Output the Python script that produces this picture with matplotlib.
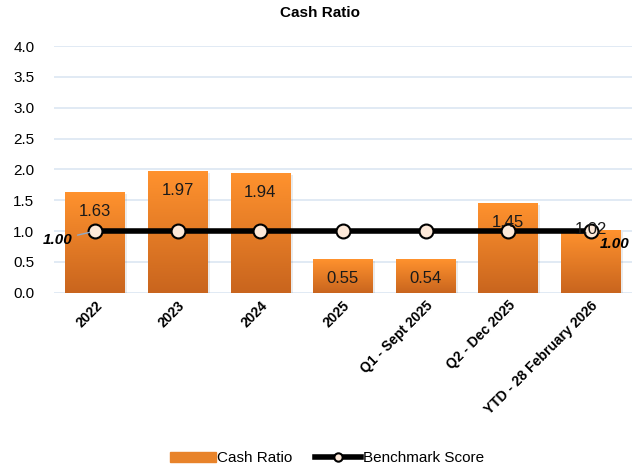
import matplotlib

matplotlib.use("Agg")

import matplotlib.pyplot as plt
import numpy as np
from matplotlib.colors import LinearSegmentedColormap

plt.rcParams["font.family"] = ["Liberation Sans", "DejaVu Sans"]

# ---------------------------------------------------------------------------
# Data
# ---------------------------------------------------------------------------
categories = ["2022", "2023", "2024", "2025", "Q1 - Sept 2025",
              "Q2 - Dec 2025", "YTD - 28 February 2026"]
cash_ratio = [1.63, 1.97, 1.94, 0.55, 0.54, 1.45, 1.02]
benchmark = [1.00, 1.00, 1.00, 1.00, 1.00, 1.00, 1.00]
y_ticks = [0.0, 0.5, 1.0, 1.5, 2.0, 2.5, 3.0, 3.5, 4.0]

# ---------------------------------------------------------------------------
# Plot
# ---------------------------------------------------------------------------
fig = plt.figure(figsize=(6.41, 4.70), dpi=100)
ax = fig.add_axes([0.084, 0.377, 0.902, 0.525])

x = np.arange(len(categories))
bar_w = 0.72
grad = LinearSegmentedColormap.from_list("orange_grad", ["#C9651E", "#FF922E"])

bars = ax.bar(x, cash_ratio, width=bar_w, color="none", edgecolor="none",
              zorder=2, label="Cash Ratio")
for b in bars:
    x0, y0 = b.get_x(), b.get_y()
    w, h = b.get_width(), b.get_height()
    # soft shadow
    ax.bar(x0 + w / 2 + 0.03, h, width=w, bottom=-0.03, color="#000000",
           alpha=0.08, zorder=1.5)
    img = ax.imshow(np.linspace(0, 1, 100).reshape(-1, 1), cmap=grad,
                    extent=[x0, x0 + w, y0, y0 + h], origin="lower",
                    aspect="auto", zorder=2)
    img.set_clip_path(b)

# value labels sit just inside the bar top; the last one is nudged up by
# the chart tool because it collides with the benchmark line
for i, (xi, v) in enumerate(zip(x, cash_ratio)):
    ly = v if i == len(cash_ratio) - 1 else v - 0.31
    ax.text(xi, ly, f"{v:.2f}", ha="center", va="center",
            fontsize=12, color="#1a1a1a", zorder=5)

ax.plot(x, benchmark, color="black", lw=4, marker="o", markersize=10,
        markerfacecolor="#FDE9D9", markeredgecolor="black",
        markeredgewidth=1.5, zorder=4, label="Benchmark Score")

# benchmark end labels
ax.annotate(f"{benchmark[0]:.2f}", xy=(x[0], benchmark[0]),
            xytext=(x[0] - 0.46, benchmark[0] - 0.14), ha="center", va="center",
            fontsize=11, fontweight="bold", fontstyle="italic", zorder=5,
            arrowprops=dict(arrowstyle="-", color="#8EA9C8", lw=1,
                            shrinkA=2, shrinkB=4))
ax.text(x[-1] + 0.29, benchmark[-1] - 0.21, f"{benchmark[-1]:.2f}",
        ha="center", va="center", fontsize=11, fontweight="bold",
        fontstyle="italic", zorder=5)

ax.set_xlim(-0.5, len(categories) - 0.5)
ax.set_ylim(0, 4.0)
ax.set_yticks(y_ticks, labels=[f"{t:.1f}" for t in y_ticks])
ax.set_xticks(x, labels=categories)
for lbl in ax.get_xticklabels():
    lbl.set_rotation(45)
    lbl.set_ha("right")
    lbl.set_rotation_mode("anchor")
    lbl.set_fontweight("bold")
    lbl.set_fontsize(10)
ax.tick_params(axis="y", labelsize=11, length=0, pad=14)
ax.tick_params(axis="x", length=0, pad=4)
ax.grid(axis="y", color="#DCE6F2", lw=1.2, zorder=0)
ax.set_axisbelow(True)
for s in ax.spines.values():
    s.set_visible(False)

fig.text(0.5, 0.972, "Cash Ratio", ha="center", va="center",
         fontsize=11, fontweight="bold")

fig.legend(handles=[plt.Rectangle((0, 0), 1, 1, color="#E8832A"),
                    ax.get_lines()[0]],
           labels=["Cash Ratio", "Benchmark Score"],
           loc="center", bbox_to_anchor=(0.51, 0.025), ncol=2, frameon=False,
           fontsize=11, handlelength=3.0, handletextpad=0.1, columnspacing=1.5,
           markerscale=0.6)

fig.savefig("out.png", dpi=100)
plt.close(fig)
